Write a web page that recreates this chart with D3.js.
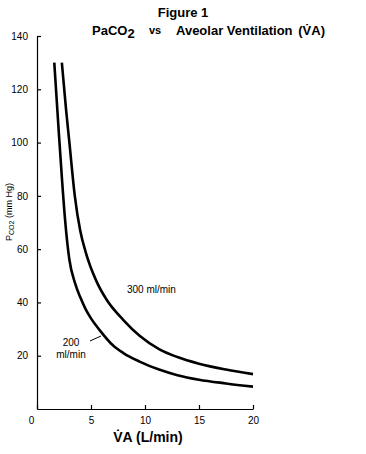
<!DOCTYPE html>
<html><head><meta charset="utf-8">
<script src="https://cdn.jsdelivr.net/npm/d3@7"></script>
<style>
html,body{margin:0;padding:0;background:#fff;}
svg{display:block;font-family:"Liberation Sans",Arial,sans-serif;}
</style></head>
<body>
<script>
// Data
const va200 = [1.6, 2.0, 2.3, 2.6, 3.0, 3.5, 4.0, 4.5, 5.0, 5.8, 7.0, 8.0, 9.5, 11.3, 13, 15, 17.5, 20];
const pa200 = [130, 105, 87, 71, 56, 47.5, 42, 37.5, 34, 29.6, 24, 21, 17.8, 14.8, 12.7, 11, 9.6, 8.4];
const va300 = [2.3, 2.7, 3.0, 3.5, 4.0, 4.5, 5.5, 6.45, 8.0, 9.5, 11.3, 13, 15, 17.5, 20];
const pa300 = [130, 112, 100, 80, 67, 59, 48, 41, 33.4, 27.5, 22.5, 19.5, 17, 14.8, 13.1];
const xTicks = [0, 5, 10, 15, 20];
const yTicks = [20, 40, 60, 80, 100, 120, 140];

const W = 366, H = 454;
const svg = d3.select("body").append("svg").attr("width", W).attr("height", H);
const x = d3.scaleLinear().domain([0, 20]).range([37, 253]);
const y = d3.scaleLinear().domain([0, 140]).range([409, 36]);

// Titles
svg.append("text").attr("x", 183).attr("y", 17).attr("text-anchor", "middle")
  .attr("font-size", 13).attr("font-weight", "bold").text("Figure 1");
const sub = svg.append("text").attr("x", 92).attr("y", 35)
  .attr("font-size", 13).attr("font-weight", "bold");
sub.append("tspan").text("PaCO");
sub.append("tspan").attr("dy", 3).text("2");
svg.append("text").attr("x", 149).attr("y", 34).attr("font-size", 11)
  .attr("font-weight", "bold").text("vs");
svg.append("text").attr("x", 176).attr("y", 35).attr("font-size", 13)
  .attr("font-weight", "bold").text("Aveolar Ventilation");
svg.append("text").attr("x", 325).attr("y", 35).attr("text-anchor", "end").attr("font-size", 13)
  .attr("font-weight", "bold").text("(V\u0307A)");

// Axes
const xAxis = d3.axisBottom(x).tickValues(xTicks).tickSizeInner(-4).tickSizeOuter(0).tickPadding(8);
const gx = svg.append("g").attr("transform", `translate(0,${y(0)})`).call(xAxis);
gx.select(".domain").attr("stroke-width", 1.2);
gx.selectAll(".tick line").attr("stroke-width", 1.2);
gx.selectAll(".tick text").attr("font-size", 10).attr("font-family", "Liberation Sans, Arial, sans-serif");
gx.selectAll(".tick text").filter(d => d === 0).attr("dx", -6);

const yAxis = d3.axisLeft(y).tickValues(yTicks).tickSizeInner(-4).tickSizeOuter(0).tickPadding(9);
const gy = svg.append("g").attr("transform", `translate(${x(0)},0)`).call(yAxis);
gy.select(".domain").attr("stroke-width", 1.2);
gy.selectAll(".tick line").attr("stroke-width", 1.2);
gy.selectAll(".tick text").attr("font-size", 10).attr("font-family", "Liberation Sans, Arial, sans-serif");

// Axis titles
svg.append("text").attr("x", 148).attr("y", 442).attr("text-anchor", "middle")
  .attr("font-size", 14).attr("font-weight", "bold").text("V\u0307A (L/min)");
const yt = svg.append("text").attr("transform", "translate(12,212) rotate(-90)")
  .attr("text-anchor", "middle").attr("font-size", 9);
yt.append("tspan").text("P");
yt.append("tspan").attr("font-size", 7).attr("dy", 2).text("CO2");
yt.append("tspan").attr("dy", -2).text(" (mm Hg)");

// Curves
const line = d3.line().x(d => x(d[0])).y(d => y(d[1])).curve(d3.curveMonotoneX);
const s200 = va200.map((v, i) => [v, pa200[i]]);
const s300 = va300.map((v, i) => [v, pa300[i]]);
[s200, s300].forEach(s => {
  svg.append("path").datum(s).attr("d", line)
    .attr("fill", "none").attr("stroke", "#000").attr("stroke-width", 2.6);
});

// Labels
svg.append("text").attr("x", 127).attr("y", 293)
  .attr("font-size", 10).text("300 ml/min");
svg.append("text").attr("x", 71).attr("y", 346).attr("text-anchor", "middle")
  .attr("font-size", 10).text("200");
svg.append("text").attr("x", 71).attr("y", 358).attr("text-anchor", "middle")
  .attr("font-size", 10).text("ml/min");
svg.append("line").attr("x1", 90).attr("y1", 341).attr("x2", 101).attr("y2", 336)
  .attr("stroke", "#000").attr("stroke-width", 1);
</script>
</body></html>
